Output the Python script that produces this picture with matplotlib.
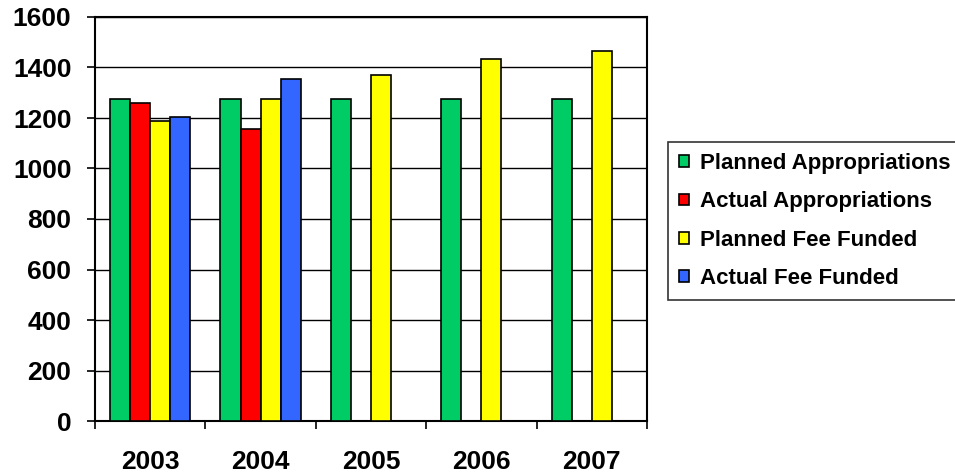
import matplotlib
matplotlib.use("Agg")
import matplotlib.pyplot as plt
import numpy as np

years = ["2003", "2004", "2005", "2006", "2007"]
series_names = ["Planned Appropriations", "Actual Appropriations",
                "Planned Fee Funded", "Actual Fee Funded"]
planned_approp = [1275, 1275, 1275, 1275, 1275]
actual_approp = [1260, 1158, np.nan, np.nan, np.nan]
planned_fee = [1190, 1275, 1370, 1434, 1465]
actual_fee = [1203, 1354, np.nan, np.nan, np.nan]
colors = ["#00CC66", "#FF0000", "#FFFF00", "#3366FF"]

plt.rcParams["font.family"] = ["Liberation Sans", "DejaVu Sans"]
plt.rcParams["font.weight"] = "bold"

fig = plt.figure(figsize=(9.55, 4.73), dpi=100)
ax = fig.add_axes([95 / 955, 1 - 421 / 473, 552 / 955, 404 / 473])

x = np.arange(len(years))
width = 1 / 5.5
all_series = [planned_approp, actual_approp, planned_fee, actual_fee]
for i, (vals, name, c) in enumerate(zip(all_series, series_names, colors)):
    offs = -0.5 + (0.75 + i + 0.5) * width
    ax.bar(x + offs, vals, width, color=c, edgecolor="black", linewidth=1.2,
           label=name, zorder=3)

ax.set_xlim(-0.5, len(years) - 0.5)
ax.set_ylim(0, 1600)
ax.set_yticks(range(0, 1601, 200))
ax.yaxis.grid(True, color="black", linewidth=1, zorder=0)
ax.set_xticks(x)
ax.set_xticklabels(years)
ax.set_xticks(np.arange(-0.5, len(years)), minor=True)
ax.tick_params(axis="x", which="major", length=0, pad=21, labelsize=19)
ax.tick_params(axis="x", which="minor", length=6, width=1.2, direction="out")
ax.tick_params(axis="y", length=6, width=1.2, direction="out", pad=11, labelsize=19)
for lbl in ax.get_xticklabels() + ax.get_yticklabels():
    lbl.set_fontweight("bold")
for sp in ax.spines.values():
    sp.set_linewidth(1.5)

leg = fig.legend(loc="upper left", bbox_to_anchor=(668 / 955, 1 - 142 / 473),
                 frameon=True, fancybox=False, edgecolor="black",
                 prop={"size": 16, "weight": "bold"}, handlelength=0.45,
                 handleheight=0.45, handletextpad=0.5, labelspacing=0.78,
                 borderpad=0.5, borderaxespad=0)
leg.get_frame().set_linewidth(1.2)

fig.savefig("out.png", dpi=100)
